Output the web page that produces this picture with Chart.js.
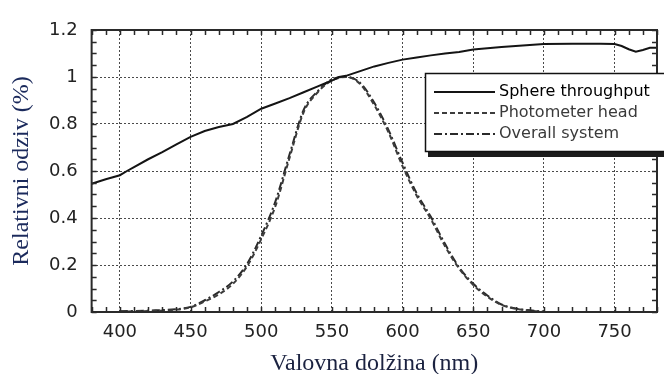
<!DOCTYPE html>
<html>
<head>
<meta charset="utf-8">
<script src="https://cdn.jsdelivr.net/npm/chart.js@4.4.0/dist/chart.umd.min.js"></script>
<style>
  html, body { margin: 0; padding: 0; background: #fff; }
  #wrap { width: 664px; height: 374px; }
</style>
</head>
<body>
<div id="wrap"><canvas id="chart" width="664" height="374"></canvas></div>
<script>
(function(){
    'use strict'

    // wavelength (nm) and relative response
    var sphereNm = [380,390,400,405,410,420,430,440,450,460,470,480,490,500,510,520,530,540,550,555,560,570,580,590,600,610,620,630,640,650,660,670,680,690,700,720,740,750,755,760,765,770,775,780];
    var sphereVal = [0.546,0.565,0.582,0.60,0.617,0.65,0.68,0.713,0.745,0.77,0.787,0.80,0.83,0.865,0.887,0.91,0.935,0.96,0.985,1.0,1.005,1.025,1.045,1.06,1.074,1.083,1.092,1.10,1.106,1.117,1.122,1.128,1.132,1.136,1.14,1.141,1.142,1.14,1.132,1.118,1.108,1.115,1.124,1.125];

    var headNm = [400,420,440,450,460,470,480,490,500,510,520,530,540,550,560,570,580,590,600,610,620,630,640,650,660,670,680,690,700];
    var headVal = [0.002,0.004,0.01,0.02,0.045,0.075,0.12,0.195,0.31,0.45,0.655,0.85,0.935,0.985,1.0,0.97,0.88,0.765,0.62,0.495,0.395,0.28,0.185,0.115,0.065,0.03,0.014,0.006,0.002];

    var overallNm = [400,420,440,450,460,470,480,490,500,510,520,530,540,550,560,570,580,590,600,610,620,630,640,650,660,670,680,690,700];
    var overallVal = [0.003,0.006,0.012,0.022,0.05,0.085,0.13,0.205,0.325,0.47,0.67,0.86,0.94,0.99,1.0,0.975,0.89,0.775,0.635,0.505,0.405,0.29,0.19,0.12,0.07,0.032,0.015,0.007,0.002];

    var seriesLabels = ['Sphere throughput', 'Photometer head', 'Overall system'];
    var xTicks = [400,450,500,550,600,650,700,750];
    var yTicks = [0,0.2,0.4,0.6,0.8,1,1.2];

    function pts(xs, ys){
        return xs.map(function(x, i){ return {x: x, y: ys[i]}; });
    }

    // frame + small inward ticks on all four sides
    var frame = {
        id: 'frame',
        afterDatasetsDraw: function(chart){
            var ctx = chart.ctx, a = chart.chartArea;
            var xs = chart.scales.x, ys = chart.scales.y;
            ctx.save();
            ctx.strokeStyle = '#2a2a2a';
            ctx.lineWidth = 1.5;
            ctx.beginPath();
            for (var v = 380; v <= 780; v += 10){
                var px = Math.round(xs.getPixelForValue(v)) + 0.5;
                ctx.moveTo(px, a.bottom); ctx.lineTo(px, a.bottom - 5);
                ctx.moveTo(px, a.top); ctx.lineTo(px, a.top + 5);
            }
            for (var k = 0; k <= 24; k++){
                var py = Math.round(ys.getPixelForValue(k * 0.05)) + 0.5;
                ctx.moveTo(a.left, py); ctx.lineTo(a.left + 5, py);
                ctx.moveTo(a.right, py); ctx.lineTo(a.right - 5, py);
            }
            ctx.stroke();
            ctx.lineWidth = 2;
            ctx.strokeRect(a.left, a.top, a.right - a.left, a.bottom - a.top);
            ctx.restore();
        }
    };

    var legendBox = {
        id: 'legendBox',
        afterDraw: function(chart){
            var ctx = chart.ctx;
            ctx.save();
            ctx.fillStyle = '#1c1c1c';
            ctx.fillRect(428, 150, 250, 7);
            ctx.fillStyle = '#fff';
            ctx.fillRect(425, 73, 250, 78);
            ctx.strokeStyle = '#111';
            ctx.lineWidth = 1.5;
            ctx.strokeRect(425.5, 73.5, 250, 78);
            chart.data.datasets.forEach(function(ds, i){
                var y = 92 + i * 21;
                ctx.setLineDash(ds.borderDash || []);
                ctx.strokeStyle = ds.borderColor;
                ctx.lineWidth = 2;
                ctx.beginPath();
                ctx.moveTo(434, y); ctx.lineTo(495, y);
                ctx.stroke();
                ctx.setLineDash([]);
                ctx.fillStyle = i === 0 ? '#000' : '#3a3a3a';
                ctx.font = '16px "DejaVu Sans"';
                ctx.textBaseline = 'middle';
                ctx.fillText(ds.label, 499, y);
            });
            ctx.restore();
        }
    };

    new Chart(document.getElementById('chart'), {
        type: 'line',
        data: {
            datasets: [{
                label: seriesLabels[0],
                data: pts(sphereNm, sphereVal),
                borderColor: '#141414',
                borderWidth: 2
            },{
                label: seriesLabels[1],
                data: pts(headNm, headVal),
                borderColor: '#3c3c3c',
                borderWidth: 2,
                borderDash: [5, 3],
                cubicInterpolationMode: 'monotone'
            },{
                label: seriesLabels[2],
                data: pts(overallNm, overallVal),
                borderColor: '#2a2a2a',
                borderWidth: 2,
                borderDash: [8, 3, 2, 3],
                cubicInterpolationMode: 'monotone'
            }]
        },
        options: {
            responsive: false,
            animation: false,
            elements: { point: { radius: 0 } },
            layout: { padding: { left: 0, right: 7, top: 30, bottom: 0 } },
            plugins: { legend: { display: false }, tooltip: { enabled: false } },
            scales: {
                x: {
                    type: 'linear',
                    min: 380,
                    max: 780,
                    afterBuildTicks: function(s){ s.ticks = xTicks.map(function(v){ return {value: v}; }); },
                    grid: { color: '#4a4a4a', lineWidth: 1, drawTicks: false },
                    border: { display: false, dash: [2, 2] },
                    ticks: { padding: 10, color: '#222', font: { family: 'DejaVu Sans', size: 18 }, maxRotation: 0,
                             callback: function(v){ return String(v); } },
                    title: {
                        display: true,
                        text: 'Valovna dolžina (nm)',
                        color: '#1b2240',
                        font: { family: 'Liberation Serif', size: 24, lineHeight: 0.85 },
                        padding: { top: 0, bottom: 0 }
                    }
                },
                y: {
                    min: 0,
                    max: 1.2,
                    afterBuildTicks: function(s){ s.ticks = yTicks.map(function(v){ return {value: v}; }); },
                    grid: { color: '#4a4a4a', lineWidth: 1, drawTicks: false },
                    border: { display: false, dash: [2, 2] },
                    ticks: { padding: 14, color: '#222', font: { family: 'DejaVu Sans', size: 18 },
                             callback: function(v){ return String(v); } },
                    title: {
                        display: true,
                        text: 'Relativni odziv (%)',
                        color: '#1b2a5c',
                        font: { family: 'Liberation Serif', size: 24, lineHeight: 1 },
                        padding: { top: 10, bottom: 1 }
                    }
                }
            }
        },
        plugins: [frame, legendBox]
    });
})();
</script>
</body>
</html>
